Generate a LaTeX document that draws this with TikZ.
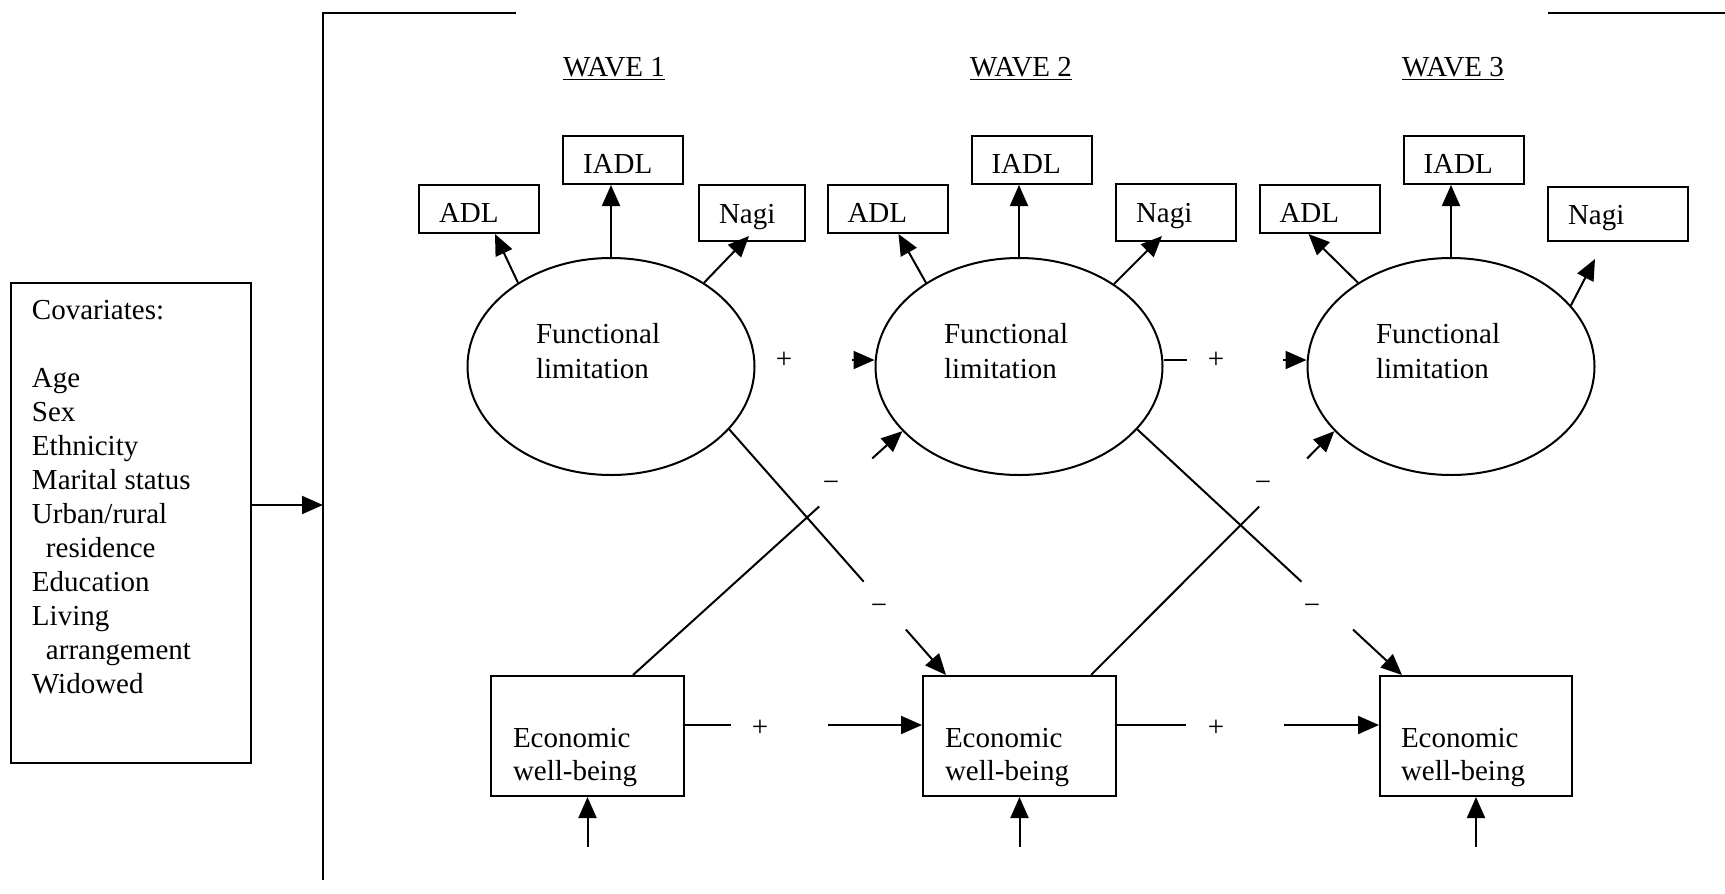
\documentclass[tikz,border=0pt]{standalone}
\usepackage{fontspec}
\setmainfont{Liberation Serif}
\usetikzlibrary{arrows.meta,shapes.geometric,calc}
\newcommand\dfont{\fontsize{14.5}{17.5}\selectfont}
\newcommand\efont{\fontsize{14.5}{16.5}\selectfont}
\newcommand\cfont{\fontsize{14.5}{17}\selectfont}
\begin{document}
\begin{tikzpicture}[x=0.5pt,y=-0.5pt,line width=1pt,
  arr/.style={-{Triangle[length=10.5pt,width=9pt]}},
  lbox/.style={draw,align=left,inner xsep=10pt,inner ysep=0pt,font=\dfont,text height=13.5pt,text depth=0pt},
  nbox/.style={lbox,text height=10pt},
  ell/.style={draw,ellipse,minimum width=143.5pt,minimum height=108.5pt,inner sep=0pt},
  ebox/.style={draw,minimum height=60pt,inner sep=0pt},
  txt/.style={font=\dfont,inner sep=0pt},
  sgn/.style={font=\dfont,inner sep=1pt}]
\useasboundingbox (0,0) rectangle (1725,894);

% frame lines
\coordinate (vb) at (323,880);
\coordinate (vt) at (323,13);
\coordinate (tl) at (516,13);
\coordinate (tr1) at (1548,13);
\coordinate (tr2) at (1725,13);
\draw (vb) -- (vt) -- (tl);
\draw (tr1) -- (tr2);

% covariates
\node[draw,minimum width=120pt,minimum height=240pt,inner sep=0pt] (cov) at (131,523) {};
\node[anchor=base west,align=left,font=\cfont,inner sep=0pt] (covt) at (31,693)
  {Covariates:\\[17pt]Age\\Sex\\Ethnicity\\Marital status\\Urban/rural\\\hspace*{7pt}residence\\Education\\Living\\\hspace*{7pt}arrangement\\Widowed};
\coordinate (vl) at (323,505);
\draw[arr] (cov.east |- vl) -- (vl);

% wave titles
\node[txt,anchor=base] (w1) at (614,76) {\underline{WAVE 1}};
\node[txt,anchor=base] (w2) at (1021,76) {\underline{WAVE 2}};
\node[txt,anchor=base] (w3) at (1453,76) {\underline{WAVE 3}};

% indicator boxes
\node[lbox,text width=40pt,minimum height=24pt] (iadl1) at (623,160) {IADL};
\node[lbox,text width=40pt,minimum height=24pt] (adl1) at (479,209) {ADL};
\node[nbox,text width=33pt,minimum height=28pt] (nagi1) at (752,213) {Nagi};
\node[lbox,text width=40pt,minimum height=24pt] (iadl2) at (1031.5,160) {IADL};
\node[lbox,text width=40pt,minimum height=24pt] (adl2) at (887.5,209) {ADL};
\node[nbox,text width=40pt,minimum height=28.5pt] (nagi2) at (1176,212.5) {Nagi};
\node[lbox,text width=40pt,minimum height=24pt] (iadl3) at (1463.5,160) {IADL};
\node[lbox,text width=40pt,minimum height=24pt] (adl3) at (1319.5,209) {ADL};
\node[nbox,text width=50pt,minimum height=27pt] (nagi3) at (1618,214) {Nagi};

% ellipses
\node[ell] (f1) at (611,366.5) {};
\node[ell] (f2) at (1019,366.5) {};
\node[ell] (f3) at (1451,366.5) {};
\node[txt,anchor=base west,align=left] (f1t) at (535,378) {Functional\\limitation};
\node[txt,anchor=base west,align=left] (f2t) at (943,378) {Functional\\limitation};
\node[txt,anchor=base west,align=left] (f3t) at (1375,378) {Functional\\limitation};

% economic boxes
\node[ebox,minimum width=96.5pt] (e1) at (587.5,736) {};
\node[ebox,minimum width=96.5pt] (e2) at (1019.5,736) {};
\node[ebox,minimum width=96pt] (e3) at (1476,736) {};
\node[anchor=base west,align=left,font=\efont,inner sep=0pt] (e1t) at (512,780) {Economic\\well-being};
\node[anchor=base west,align=left,font=\efont,inner sep=0pt] (e2t) at (944,780) {Economic\\well-being};
\node[anchor=base west,align=left,font=\efont,inner sep=0pt] (e3t) at (1400,780) {Economic\\well-being};

% measurement arrows
\draw[arr] (f1.north) -- (f1.north |- iadl1.south);
\draw[arr] (f2.north) -- (f2.north |- iadl2.south);
\draw[arr] (f3.north) -- (f3.north |- iadl3.south);
\draw[arr] (f1.138) -- ($(adl1.south west)+(77,0)$);
\draw[arr] (f2.138) -- ($(adl2.south west)+(72,0)$);
\draw[arr] (f3.138) -- ($(adl3.south west)+(50,0)$);
\draw[arr] (f1.42) -- ($(nagi1.south west)+(51,-6)$);
\draw[arr] (f2.41) -- ($(nagi2.south west)+(47,-6)$);
\coordinate (tn3) at (1595,259);
\draw[arr] (f3.27) -- (tn3);

% stability paths, functional limitation
\coordinate (h12) at (852,360);
\draw[arr] (h12) -- (h12 -| f2.west);
\node[sgn] (p12) at (784,360) {+};
\coordinate (s23) at (1187,360);
\draw (s23 -| f2.east) -- (s23);
\coordinate (h23) at (1283,360);
\draw[arr] (h23) -- (h23 -| f3.west);
\node[sgn] (p23) at (1216,360) {+};

% stability paths, economic
\coordinate (s12e) at (731,725);
\draw (s12e -| e1.east) -- (s12e);
\node[sgn] (pe12) at (760,728) {+};
\coordinate (h12e) at (828,725);
\draw[arr] (h12e) -- (h12e -| e2.west);
\coordinate (s23e) at (1186,725);
\draw (s23e -| e2.east) -- (s23e);
\node[sgn] (pe23) at (1216,728) {+};
\coordinate (h23e) at (1284,725);
\draw[arr] (h23e) -- (h23e -| e3.west);

% cross-lagged paths
\coordinate (P1) at (f1.-28);
\coordinate (T1) at ($(e2.north west)+(24,0)$);
\draw (P1) -- ($(P1)!0.62!(T1)$);
\draw[arr] ($(P1)!0.815!(T1)$) -- (T1);
\node[sgn] (m1b) at (879,609) {−};
\coordinate (S1) at ($(e1.north west)+(143,0)$);
\coordinate (U1) at (f2.209);
\draw (S1) -- ($(S1)!0.691!(U1)$);
\draw[arr] ($(S1)!0.888!(U1)$) -- (U1);
\node[sgn] (m1a) at (831,486) {−};

\coordinate (P2) at (f2.-28);
\coordinate (T2) at ($(e3.north west)+(23,0)$);
\draw (P2) -- ($(P2)!0.62!(T2)$);
\draw[arr] ($(P2)!0.815!(T2)$) -- (T2);
\node[sgn] (m2b) at (1312,609) {−};
\coordinate (S2) at ($(e2.north west)+(169,0)$);
\coordinate (U2) at (f3.209);
\draw (S2) -- ($(S2)!0.691!(U2)$);
\draw[arr] ($(S2)!0.888!(U2)$) -- (U2);
\node[sgn] (m2a) at (1263,486) {−};

% disturbance arrows
\coordinate (b1) at (587.5,847);
\coordinate (b2) at (1019.5,847);
\coordinate (b3) at (1476,847);
\draw[arr] (b1) -- (e1.south);
\draw[arr] (b2) -- (e2.south);
\draw[arr] (b3) -- (e3.south);
\end{tikzpicture}
\end{document}
